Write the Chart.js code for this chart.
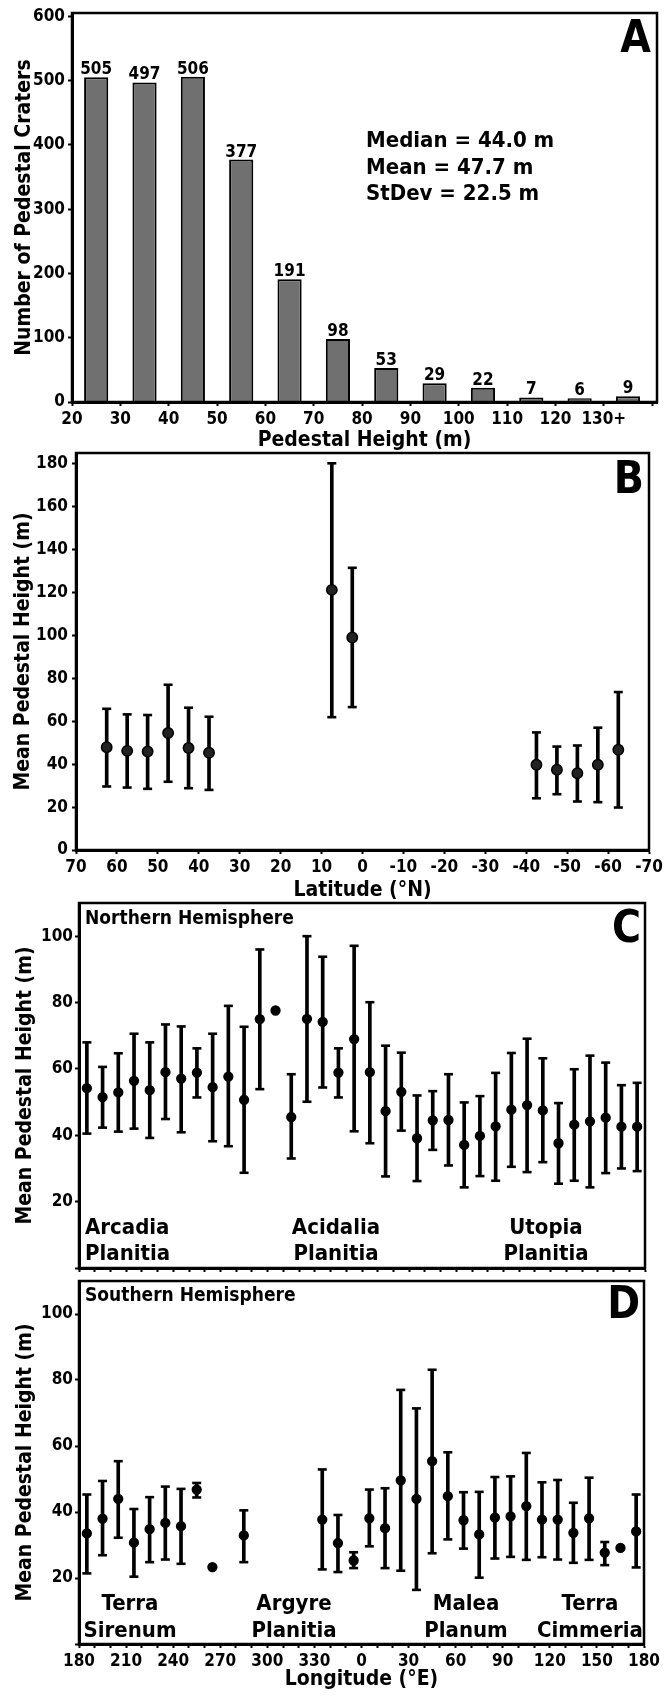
<!DOCTYPE html>
<html><head><meta charset="utf-8">
<script src="https://cdn.jsdelivr.net/npm/chart.js@4.4.1/dist/chart.umd.min.js"></script>
<style>
html,body{margin:0;padding:0;background:#fff;}
body{width:665px;height:1696px;position:relative;overflow:hidden}
.p{position:absolute;left:0}
canvas{display:block}
</style></head><body>
<div class="p" style="top:0px"><canvas id="cA" width="665" height="460"></canvas></div>
<div class="p" style="top:440px"><canvas id="cB" width="665" height="465"></canvas></div>
<div class="p" style="top:890px"><canvas id="cC" width="665" height="390"></canvas></div>
<div class="p" style="top:1270px"><canvas id="cD" width="665" height="426"></canvas></div>
<script>
// ---------- DATA ----------
// Panel A: histogram of pedestal heights
const heightBinCenters = [25,35,45,55,65,75,85,95,105,115,125,135];
const craterCounts = [505,497,506,377,191,98,53,29,22,7,6,9];
const heightTickValues = [20,30,40,50,60,70,80,90,100,110,120,130,140];
const heightTickLabels = ['20','30','40','50','60','70','80','90','100','110','120','130+',''];
const countTickValues = [0,100,200,300,400,500,600];
const statLines = ['Median = 44.0 m','Mean = 47.7 m','StDev = 22.5 m'];

// Panel B: mean pedestal height vs latitude
const latitudes = [62.5,57.5,52.5,47.5,42.5,37.5,7.5,2.5,-42.5,-47.5,-52.5,-57.5,-62.5];
const latMean = [47.9,46.2,45.9,54.5,47.5,45.3,121.2,99.0,39.7,37.4,35.8,39.7,46.7];
const latLow  = [29.6,29.1,28.5,31.8,28.8,28.0,61.9,66.6,24.1,26.0,22.6,22.3,19.8];
const latHigh = [65.8,63.2,62.9,77.0,66.3,62.1,180.2,131.5,54.8,48.2,48.7,57.0,73.6];

// Panels C & D: longitude bins (centres, deg E, -180..180)
const lonCenters = [-175,-165,-155,-145,-135,-125,-115,-105,-95,-85,-75,-65,-55,-45,-35,-25,-15,-5,5,15,25,35,45,55,65,75,85,95,105,115,125,135,145,155,165,175];
const lonTickValues = [-180,-150,-120,-90,-60,-30,0,30,60,90,120,150,180];
const lonTickLabels = ['180','210','240','270','300','330','0','30','60','90','120','150','180'];

// Panel C: Northern hemisphere
const northMean = [54.2,51.5,52.9,56.4,53.6,59.0,57.1,58.9,54.5,57.7,50.7,75.0,77.6,45.5,75.1,74.2,58.9,69.0,59.0,47.3,53.1,39.1,44.5,44.6,37.1,39.8,42.7,47.7,49.1,47.5,37.6,43.2,44.2,45.3,42.6,42.6];
const northHigh = [68.0,60.6,64.7,70.6,68.0,73.4,72.8,66.2,70.6,79.0,72.7,96.0,null,58.4,100.0,93.8,66.2,97.1,80.1,67.0,64.9,52.0,53.3,58.4,49.9,51.8,58.8,64.8,69.1,63.2,49.7,59.9,64.0,61.9,55.1,55.8];
const northLow  = [40.5,42.3,41.1,42.0,39.2,44.9,40.9,51.4,38.2,36.7,28.7,53.9,null,33.0,50.1,54.4,51.4,41.2,37.6,27.6,41.4,26.2,35.6,30.9,24.3,27.7,26.3,30.5,28.9,31.9,25.4,26.3,24.3,28.6,30.0,29.2];

// Panel D: Southern hemisphere
const southMean = [33.5,38.0,44.0,30.7,34.8,36.7,35.7,46.8,23.3,null,32.9,null,null,null,null,37.7,30.6,25.3,38.1,35.1,49.6,44.0,55.4,44.8,37.5,33.2,38.3,38.7,41.8,37.7,37.7,33.7,38.1,27.7,29.1,34.1];
const southHigh = [45.3,49.4,55.4,40.9,44.5,47.7,47.0,48.8,null,null,40.5,null,null,null,null,52.9,39.1,27.8,46.8,47.2,77.0,71.4,83.1,58.1,46.0,46.1,50.6,50.8,57.9,49.0,49.7,42.8,50.4,30.9,null,45.3];
const southLow  = [21.4,26.9,32.2,20.4,24.8,25.6,24.3,44.4,null,null,24.8,null,null,null,null,22.6,21.8,23.0,29.6,23.0,22.2,16.4,27.5,31.7,28.9,20.1,25.9,26.4,25.5,26.3,25.6,24.6,25.5,23.9,null,23.2];

// ---------- STYLE ----------
const FONT = "'DejaVu Sans Condensed','DejaVu Sans',sans-serif";
Chart.defaults.font.family = FONT;
Chart.defaults.font.weight = 'bold';
Chart.defaults.color = '#000';
Chart.defaults.animation = false;
Chart.defaults.events = [];
Chart.defaults.plugins.legend.display = false;
Chart.defaults.plugins.tooltip.enabled = false;

function fixBox(dim) {
  return function (s) {
    if (s.isHorizontal()) s.height = dim; else s.width = dim;
    s.paddingTop = 0; s.paddingBottom = 0; s.paddingLeft = 0; s.paddingRight = 0;
  };
}
const gridOpts = {drawOnChartArea:false, drawTicks:true, tickLength:4, tickWidth:2, tickColor:'#000', offset:false};
const borderOpts = {display:true, color:'#000', width:3, z:1};

const annotPlugin = {
  id: 'annot',
  afterDraw(chart, args, opts) {
    const ctx = chart.ctx, a = chart.chartArea;
    ctx.save();
    ctx.strokeStyle = '#000'; ctx.lineWidth = 2.5;
    ctx.strokeRect(a.left, a.top, a.right - a.left, a.bottom - a.top);
    (opts.items || []).forEach(it => {
      ctx.font = 'bold ' + it.size + 'px ' + FONT;
      ctx.fillStyle = '#000';
      ctx.textAlign = it.align || 'left';
      ctx.textBaseline = 'alphabetic';
      ctx.fillText(it.text, it.x, it.y - opts.top);
    });
    ctx.restore();
  }
};

const barLabelPlugin = {
  id: 'barLabels',
  afterDatasetsDraw(chart) {
    const meta = chart.getDatasetMeta(0), ctx = chart.ctx;
    ctx.save();
    ctx.font = 'bold 17px ' + FONT;
    ctx.textAlign = 'center'; ctx.textBaseline = 'alphabetic'; ctx.fillStyle = '#000';
    meta.data.forEach((el, i) => ctx.fillText(String(craterCounts[i]), el.x, el.y - 3));
    ctx.restore();
  }
};

// ---------- PANEL A ----------
new Chart(document.getElementById('cA'), {
  type: 'bar',
  data: {datasets: [{
    data: heightBinCenters.map((x, i) => ({x: x, y: craterCounts[i]})),
    backgroundColor: '#707070', borderColor: '#000', borderWidth: 2,
    barPercentage: 0.5, categoryPercentage: 1
  }]},
  options: {
    responsive: false, devicePixelRatio: 1,
    layout: {padding: {top: 13, right: 8, left: 0, bottom: 0}},
    scales: {
      x: {type: 'linear', min: 20, max: 141, offset: false, grid: gridOpts, border: borderOpts,
        ticks: {stepSize: 10, includeBounds: false, autoSkip: false, maxRotation: 0, padding: 3, font: {size: 17},
          callback: v => { const k = heightTickValues.indexOf(v); return k >= 0 ? heightTickLabels[k] : ''; }},
        afterBuildTicks: s => { s.ticks = heightTickValues.map(v => ({value: v})); },
        title: {display: true, text: 'Pedestal Height (m)', font: {size: 21}, padding: {top: 0, bottom: 6.4}},
        afterFit: fixBox(58)},
      y: {type: 'linear', min: 0, max: 605, grid: gridOpts, border: borderOpts,
        ticks: {padding: 3, font: {size: 17}, callback: v => String(v)},
        afterBuildTicks: s => { s.ticks = countTickValues.map(v => ({value: v})); },
        title: {display: true, text: 'Number of Pedestal Craters', font: {size: 21}, padding: {top: 12.4, bottom: 0}},
        afterFit: fixBox(72)}
    },
    plugins: {annot: {top: 0, items: [
      {text: 'A', x: 651, y: 52, size: 44, align: 'right'},
      {text: statLines[0], x: 366, y: 147, size: 22},
      {text: statLines[1], x: 366, y: 174, size: 22},
      {text: statLines[2], x: 366, y: 200, size: 22}
    ]}}
  },
  plugins: [annotPlugin, barLabelPlugin]
});

// ---------- ERROR-BAR PANELS ----------
function errorChart(id, xs, mean, low, high, o) {
  const pts = [], caps = [], whisk = [];
  xs.forEach((x, i) => {
    if (mean[i] != null) pts.push({x: x, y: mean[i]});
    if (low[i] != null && high[i] != null) {
      whisk.push({x: x, y: [low[i], high[i]]});
      caps.push({x: x, y: low[i]});
      caps.push({x: x, y: high[i]});
    }
  });
  new Chart(document.getElementById(id), {
    type: 'scatter',
    data: {datasets: [
      {data: pts, pointStyle: 'circle', pointRadius: o.r, backgroundColor: o.ptFill, borderColor: '#000', borderWidth: 1.5, clip: false, order: 0},
      {data: caps, pointStyle: 'line', pointRadius: 4.5, borderColor: '#000', borderWidth: 2.6, clip: false, order: 1},
      {type: 'bar', data: whisk, backgroundColor: '#000', borderWidth: 0, barThickness: 3, grouped: false, clip: false, order: 2}
    ]},
    options: {
      responsive: false, devicePixelRatio: 1,
      layout: {padding: {top: o.padTop, right: o.padRight, left: 0, bottom: 0}},
      scales: {
        x: {type: 'linear', min: o.xMin, max: o.xMax, reverse: !!o.reverse, offset: false,
          grid: gridOpts, border: borderOpts,
          ticks: {stepSize: 10, includeBounds: false, autoSkip: false, maxRotation: 0, padding: o.xPad, font: {size: 17}, callback: o.xLabel},
          title: {display: !!o.xTitle, text: o.xTitle || '', font: {size: 21}, padding: {top: 0, bottom: o.xTitlePad}},
          afterFit: fixBox(o.xH)},
        y: {type: 'linear', min: 0, max: o.yMax, grid: gridOpts, border: borderOpts,
          ticks: {stepSize: 20, includeBounds: false, padding: o.yPad, font: {size: 17}, callback: o.yLabel},
          title: {display: true, text: 'Mean Pedestal Height (m)', font: {size: 21}, padding: {top: o.yTitlePad, bottom: 0}},
          afterFit: fixBox(o.yW)}
      },
      plugins: {annot: {top: o.canvasTop, items: o.items}}
    },
    plugins: [annotPlugin]
  });
}

// Panel B
errorChart('cB', latitudes, latMean, latLow, latHigh, {
  canvasTop: 440, padTop: 13, padRight: 16, yW: 76, xH: 55, r: 5.2, ptFill: '#222',
  xMin: -70, xMax: 70, reverse: true, xPad: 3, yPad: 4,
  xLabel: v => String(v), yLabel: v => String(v),
  xTitle: 'Latitude (°N)', xTitlePad: 1.9, yTitlePad: 11.4, yMax: 185,
  items: [{text: 'B', x: 644, y: 493, size: 44, align: 'right'}]
});

// Panel C
errorChart('cC', lonCenters, northMean, northLow, northHigh, {
  canvasTop: 890, padTop: 13, padRight: 20, yW: 79, xH: 12, r: 4.4, ptFill: '#000',
  xMin: -180, xMax: 180, xPad: 0, yPad: 2,
  xLabel: () => '', yLabel: v => v === 0 ? '' : String(v),
  xTitle: '', xTitlePad: 0, yTitlePad: 13.4, yMax: 110,
  items: [
    {text: 'C', x: 641, y: 942, size: 44, align: 'right'},
    {text: 'Northern Hemisphere', x: 85, y: 924, size: 19},
    {text: 'Arcadia', x: 85, y: 1234, size: 22},
    {text: 'Planitia', x: 85, y: 1260, size: 22},
    {text: 'Acidalia', x: 336, y: 1234, size: 22, align: 'center'},
    {text: 'Planitia', x: 336, y: 1260, size: 22, align: 'center'},
    {text: 'Utopia', x: 546, y: 1234, size: 22, align: 'center'},
    {text: 'Planitia', x: 546, y: 1260, size: 22, align: 'center'}
  ]
});

// Panel D
errorChart('cD', lonCenters, southMean, southLow, southHigh, {
  canvasTop: 1270, padTop: 11, padRight: 21, yW: 79, xH: 52, r: 4.4, ptFill: '#000',
  xMin: -180, xMax: 180, xPad: 3, yPad: 2,
  xLabel: v => { const k = lonTickValues.indexOf(v); return k >= 0 ? lonTickLabels[k] : ''; },
  yLabel: v => v === 0 ? '' : String(v),
  xTitle: 'Longitude (°E)', xTitlePad: 3.4, yTitlePad: 13.4, yMax: 110,
  items: [
    {text: 'D', x: 640, y: 1318, size: 44, align: 'right'},
    {text: 'Southern Hemisphere', x: 85, y: 1301, size: 19},
    {text: 'Terra', x: 130, y: 1610, size: 22, align: 'center'},
    {text: 'Sirenum', x: 130, y: 1637, size: 22, align: 'center'},
    {text: 'Argyre', x: 294, y: 1610, size: 22, align: 'center'},
    {text: 'Planitia', x: 294, y: 1637, size: 22, align: 'center'},
    {text: 'Malea', x: 466, y: 1610, size: 22, align: 'center'},
    {text: 'Planum', x: 466, y: 1637, size: 22, align: 'center'},
    {text: 'Terra', x: 590, y: 1610, size: 22, align: 'center'},
    {text: 'Cimmeria', x: 590, y: 1637, size: 22, align: 'center'}
  ]
});
</script>
</body></html>
